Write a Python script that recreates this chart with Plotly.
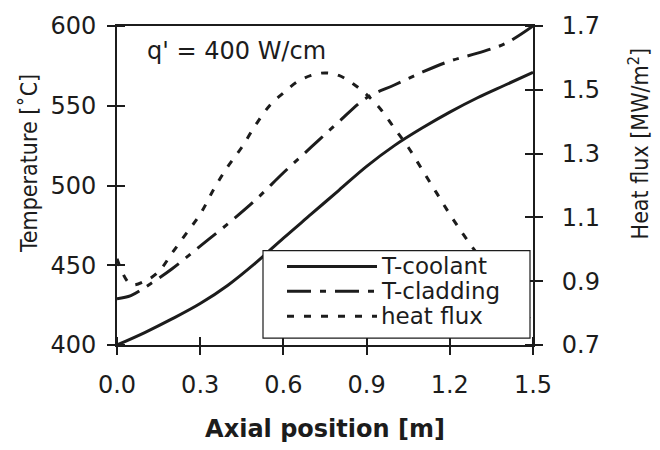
import plotly.graph_objects as go

# ---- data ----
pos_coolant = [0.0, 0.1, 0.2, 0.3, 0.4, 0.5, 0.6, 0.7, 0.8, 0.9, 1.0, 1.1, 1.2, 1.3, 1.4, 1.5]
t_coolant = [400, 407.8, 416.5, 426, 437.5, 451.5, 467, 482, 497, 512, 525, 536, 546, 555, 563, 571]

pos_cladding = [0.0, 0.05, 0.1, 0.2, 0.3, 0.4, 0.5, 0.6, 0.7, 0.8, 0.9, 1.0, 1.1, 1.2, 1.3, 1.4, 1.5]
t_cladding = [429, 431, 436, 448, 462, 476, 491, 508, 524, 540, 555, 563, 571, 578, 583, 589, 600]

pos_flux = [0.0, 0.05, 0.1, 0.15, 0.2, 0.25, 0.3, 0.35, 0.4, 0.45, 0.5, 0.55, 0.6, 0.65, 0.7,
            0.75, 0.8, 0.85, 0.9, 0.95, 1.0, 1.05, 1.1, 1.15, 1.2, 1.25, 1.3, 1.35, 1.4, 1.45, 1.5]
heat_flux = [0.97, 0.89, 0.90, 0.93, 0.99, 1.05, 1.11, 1.19, 1.26, 1.32, 1.39, 1.45, 1.49, 1.525, 1.545,
             1.553, 1.545, 1.52, 1.485, 1.44, 1.38, 1.32, 1.25, 1.18, 1.11, 1.045, 0.985, 0.93, 0.87, 0.82, 0.77]

x_ticks = [0.0, 0.3, 0.6, 0.9, 1.2, 1.5]
x_ticklabels = ["0.0", "0.3", "0.6", "0.9", "1.2", "1.5"]
t_ticks = [400, 450, 500, 550, 600]
q_ticks = [0.7, 0.9, 1.1, 1.3, 1.5, 1.7]
q_ticklabels = ["0.7", "0.9", "1.1", "1.3", "1.5", "1.7"]

series_names = ["T-coolant", "T-cladding", "heat flux"]

INK = "#1c1c1c"
FONT = "DejaVu Sans, Liberation Sans, Arial, sans-serif"
NARROW = "DejaVu Sans Condensed, Liberation Sans Narrow, Arial Narrow, DejaVu Sans, sans-serif"
DASH_CLAD = "24px,9px,6px,9px"
DASH_FLUX = "7px,10px"
EPS = 1e-7  # minor ticks sit on the major ones so that ticks cross the axis line

fig = go.Figure()
fig.add_trace(go.Scatter(x=pos_coolant, y=t_coolant, mode="lines", name=series_names[0],
                         line=dict(color=INK, width=3, shape="spline"), showlegend=False))
fig.add_trace(go.Scatter(x=pos_cladding, y=t_cladding, mode="lines", name=series_names[1],
                         line=dict(color=INK, width=3, dash=DASH_CLAD, shape="spline"), showlegend=False))
fig.add_trace(go.Scatter(x=pos_flux, y=heat_flux, mode="lines", name=series_names[2], yaxis="y2",
                         line=dict(color=INK, width=3, dash=DASH_FLUX, shape="spline"), showlegend=False))

tickfont = dict(family=FONT, size=24, color=INK)
common = dict(showgrid=False, zeroline=False, showline=True, linecolor=INK, linewidth=2,
              tickcolor=INK, tickwidth=1.5, ticklen=8, ticks="outside")


def inner(vals):
    return dict(ticks="inside", tickvals=[v + EPS for v in vals], ticklen=8, tickwidth=1.5,
                tickcolor=INK, showgrid=False)


fig.update_layout(
    width=660, height=450,
    margin=dict(l=117, r=127, t=26, b=103),
    paper_bgcolor="white", plot_bgcolor="white",
    xaxis=dict(range=[0, 1.5], tickvals=x_ticks, ticktext=x_ticklabels,
               mirror=True, tickfont=tickfont, ticklabelstandoff=9, minor=inner(x_ticks),
               title=dict(text="<b>Axial position [m]</b>", font=dict(family=FONT, size=24, color=INK),
                          standoff=22), **common),
    yaxis=dict(range=[400, 600], tickvals=t_ticks, tickfont=tickfont,
               ticklabelstandoff=6, minor=inner(t_ticks), **common),
    yaxis2=dict(range=[0.7, 1.7], tickvals=q_ticks, ticktext=q_ticklabels,
                overlaying="y", side="right", anchor="x", tickfont=tickfont, ticklabelstandoff=14,
                minor=inner(q_ticks), **common),
)

# axis titles and note placed as in the reference
fig.add_annotation(text="Temperature [˚C]", xref="paper", yref="paper", x=-0.212, y=0.57,
                   xanchor="center", yanchor="middle",
                   textangle=-90, showarrow=False, font=dict(family=NARROW, size=23, color=INK))
fig.add_annotation(text="Heat flux [MW/m<sup>2</sup>]", xref="paper", yref="paper", x=1.255, y=0.629,
                   xanchor="center", yanchor="middle",
                   textangle=-90, showarrow=False, font=dict(family=NARROW, size=23, color=INK))
fig.add_annotation(text="q' = 400 W/cm", xref="paper", yref="paper", x=0.067, y=0.922,
                   xanchor="left", yanchor="middle", showarrow=False,
                   font=dict(family=FONT, size=24, color=INK))


# legend box drawn in paper coordinates
def px_x(p):
    return (p - 117) / 416.0


def px_y(p):
    return (347 - p) / 321.0


fig.add_shape(type="rect", xref="paper", yref="paper", x0=px_x(263), x1=px_x(530),
              y0=px_y(340), y1=px_y(252), line=dict(color=INK, width=1.2), fillcolor="white", layer="above")
legend_rows = [268, 293, 318]
legend_dash = ["solid", DASH_CLAD, DASH_FLUX]
for name, row, dash in zip(series_names, legend_rows, legend_dash):
    fig.add_shape(type="line", xref="paper", yref="paper", x0=px_x(287), x1=px_x(377),
                  y0=px_y(row), y1=px_y(row), line=dict(color=INK, width=3, dash=dash), layer="above")
    fig.add_annotation(text=name, xref="paper", yref="paper", x=px_x(379), y=px_y(row),
                       xanchor="left", yanchor="middle", showarrow=False,
                       font=dict(family=FONT, size=23, color=INK))

fig.write_html("out.html")
